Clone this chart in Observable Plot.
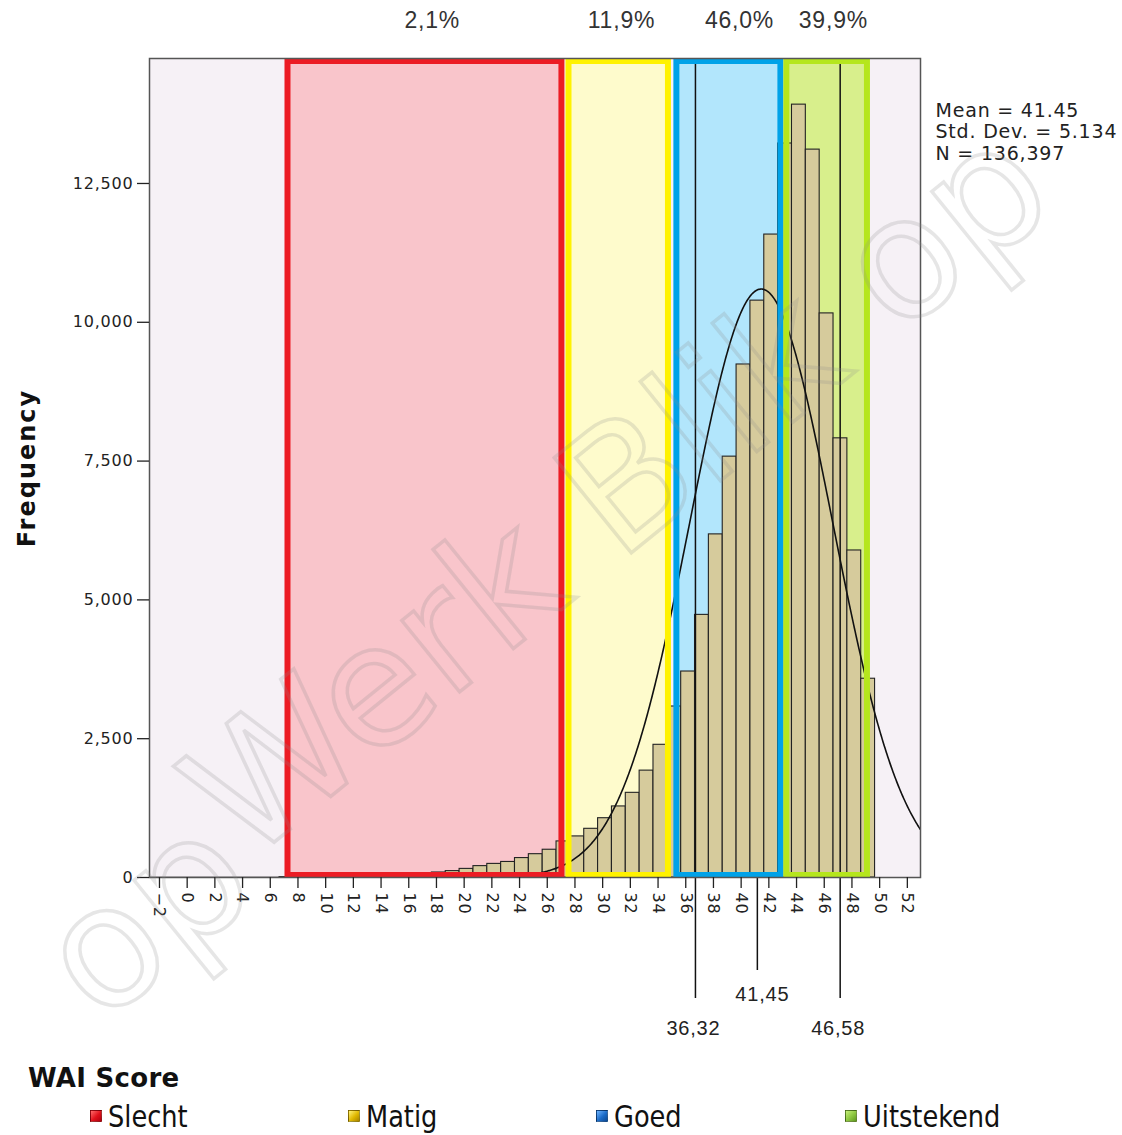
<!DOCTYPE html>
<html>
<head>
<meta charset="utf-8">
<script src="https://cdn.jsdelivr.net/npm/d3@7"></script>
<script src="https://cdn.jsdelivr.net/npm/@observablehq/plot@0.6"></script>
<style>
  html, body { margin: 0; padding: 0; background: #fff; }
  body { width: 1122px; height: 1135px; overflow: hidden; position: relative; font-family: "DejaVu Sans", sans-serif; }
  #chart { position: absolute; left: 0; top: 0; }
  #legendTitle { position: absolute; left: 28px; top: 1061px;
    font-family: "DejaVu Sans", sans-serif; font-weight: bold; font-size: 26px; line-height: 34px; color: #111; letter-spacing: 0.3px; }
  .item { position: absolute; top: 1098px; height: 36px; display: flex; align-items: center;
    font-family: "Liberation Sans Narrow", "DejaVu Sans Condensed", "Liberation Sans", sans-serif; font-size: 31px; color: #111; white-space: nowrap; }
  .item .lbl { display: inline-block; transform: scaleX(0.92); transform-origin: left center; }
  .sw { width: 12px; height: 12px; margin-right: 6px; box-sizing: border-box; border: 1px solid rgba(0,0,0,0.35); }
  #wm { position: absolute; left: 0; top: 0; pointer-events: none; }
</style>
</head>
<body>
<div id="chart"></div>
<div id="legendTitle">WAI Score</div>
<div id="legend"></div>
<svg id="wm" width="1122" height="1135">
  <g font-family="DejaVu Sans, sans-serif" font-size="168" fill="none" stroke="rgba(140,140,140,0.22)" stroke-width="3.5">
    <text transform="translate(100,1026) rotate(-39)">op</text>
    <text transform="translate(246,865) rotate(-39)">Werk Blik op</text>
  </g>
</svg>
<script>
// ---------- data ----------
const scores = [7, 8, 9, 10, 11, 12, 13, 14, 15, 16, 17, 18, 19, 20, 21, 22, 23, 24, 25, 26, 27,
  28, 29, 30, 31, 32, 33, 34, 35, 36, 37, 38, 39, 40, 41, 42, 43, 44, 45, 46, 47, 48, 49];
const frequencies = [5, 5, 8, 10, 12, 15, 25, 35, 45, 55, 70, 90, 115, 155, 205, 245, 280, 350, 420, 500, 650,
  740, 877, 1068, 1280, 1525, 1925, 2390, 3080, 3710, 4730, 6180, 7580, 9240, 10390, 11580, 13220,
  13920, 13110, 10160, 7910, 5890, 3580];

const categories = ["Slecht", "Matig", "Goed", "Uitstekend"];
const categoryShare = ["2,1%", "11,9%", "46,0%", "39,9%"];
const categoryStart = [7.28, 27.57, 35.36, 43.3];
const categoryEnd = [27.06, 34.75, 42.87, 49.12];
const shareLabelX = [17.7, 31.36, 39.88, 46.66];
const categoryFill = ["#f9c5cb", "#fefbcc", "#b2e6fc", "#d8ef8c"];
const categoryStroke = ["#ec1c24", "#fff200", "#00a2e8", "#b5e61d"];
const legendSwatch = [
  "linear-gradient(135deg,#ff6a6a,#e0101a 55%,#b00010)",
  "linear-gradient(135deg,#fff27a,#e0b800 55%,#a88400)",
  "linear-gradient(135deg,#6fb4ff,#1c6cc8 55%,#0d4a94)",
  "linear-gradient(135deg,#c6f07a,#8cc63f 55%,#5f9a20)"
];
const legendLeft = [90, 348, 596, 845];

const markerLabels = ["36,32", "41,45", "46,58"];
const markerX = [36.7, 41.17, 47.15];

const statMean = 41.45, statSD = 5.134, statN = 136397;
const statsText = "Mean = 41.45\nStd. Dev. = 5.134\nN = 136,397";

const xTicks = d3.range(-2, 53, 2);
const yTicks = [0, 2500, 5000, 7500, 10000, 12500];
const xDomain = [-2.72, 52.95];
const yDomain = [0, 14751];

// ---------- derived ----------
const bins = scores.map((s, i) => ({score: s, count: frequencies[i]}));
const binWidth = 1;
const binOffset = 0.17; // SPSS bin centres sit slightly right of the integer
const curve = d3.range(xDomain[0], xDomain[1] + 0.05, 0.05).map(x => ({
  x,
  y: statN * binWidth / (statSD * Math.sqrt(2 * Math.PI)) * Math.exp(-0.5 * ((x - statMean) / statSD) ** 2)
}));
const idx4 = d3.range(4);

const regionFills = idx4.map(i => Plot.rect([i], {
  x1: () => categoryStart[i], x2: () => categoryEnd[i],
  fill: categoryFill[i], insetTop: 3, insetBottom: 2
}));
const regionStrokes = idx4.map(i => Plot.rect([i], {
  x1: () => categoryStart[i], x2: () => categoryEnd[i],
  fill: "none", stroke: categoryStroke[i], strokeWidth: 6, insetTop: 3, insetBottom: 2
}));

const chart = Plot.plot({
  width: 1122,
  height: 1050,
  marginTop: 58,
  marginBottom: 173,
  marginLeft: 149,
  marginRight: 202,
  style: {fontFamily: "DejaVu Sans, sans-serif", fontSize: "16px", color: "#222", background: "transparent", letterSpacing: "0.8px", overflow: "visible"},
  x: {domain: xDomain},
  y: {domain: yDomain},
  marks: [
    Plot.frame({fill: "#f6f1f6"}),
    ...regionFills,
    Plot.rectY(bins, {
      x1: d => d.score + binOffset - binWidth / 2,
      x2: d => d.score + binOffset + binWidth / 2,
      y: "count", fill: "#d6cb9c", stroke: "#222", strokeWidth: 1.1
    }),
    Plot.line(curve, {x: "x", y: "y", stroke: "#111", strokeWidth: 1.6, clip: true}),
    Plot.ruleX([markerX[0], markerX[2]], {stroke: "#111", strokeWidth: 1.5, insetBottom: -121}),
    Plot.ruleX([markerX[1]], {stroke: "#111", strokeWidth: 1.5, insetTop: 819, insetBottom: -93}),
    ...regionStrokes,
    Plot.frame({stroke: "#555", strokeWidth: 1.5}),
    Plot.axisY({ticks: yTicks, tickFormat: d3.format(","), tickSize: 12, tickPadding: 4, label: null, fontSize: 16, strokeWidth: 1.3}),
    Plot.axisX({ticks: xTicks, tickRotate: 90, tickSize: 11, tickPadding: 4, label: null, fontSize: 16, strokeWidth: 1.3}),
    Plot.text(["Frequency"], {frameAnchor: "left", dx: -122, rotate: -90, textAnchor: "middle", lineAnchor: "middle",
      fontWeight: "bold", fontSize: 24, fill: "#111"}),
    Plot.text(idx4, {x: i => shareLabelX[i], text: i => categoryShare[i], frameAnchor: "top", lineAnchor: "middle", dy: -38,
      fontSize: 23, fontFamily: "Liberation Sans, Arial, sans-serif", fill: "#333"}),
    Plot.text([statsText], {frameAnchor: "top-right", dx: 15, dy: 43, textAnchor: "start", lineAnchor: "top",
      lineHeight: 1.13, fontSize: 19, fill: "#222"}),
    Plot.text([0, 2], {x: i => markerX[i], text: i => markerLabels[i], frameAnchor: "bottom", lineAnchor: "middle", dy: 151, dx: -2,
      fontSize: 20, fontFamily: "Liberation Sans, Arial, sans-serif", fill: "#222"}),
    Plot.text([1], {x: i => markerX[i], text: i => markerLabels[i], frameAnchor: "bottom", lineAnchor: "middle", dy: 117, dx: 5,
      fontSize: 20, fontFamily: "Liberation Sans, Arial, sans-serif", fill: "#222"})
  ]
});
document.getElementById("chart").appendChild(chart);
chart.querySelectorAll("text").forEach(t => {
  if (t.textContent === "Frequency") t.style.letterSpacing = "2px";
});

// legend
const legend = document.getElementById("legend");
categories.forEach((c, i) => {
  const item = document.createElement("div");
  item.className = "item";
  item.style.left = legendLeft[i] + "px";
  const sw = document.createElement("span");
  sw.className = "sw";
  sw.style.background = legendSwatch[i];
  item.appendChild(sw);
  const lbl = document.createElement("span");
  lbl.className = "lbl";
  lbl.textContent = c;
  item.appendChild(lbl);
  legend.appendChild(item);
});
</script>
</body>
</html>
